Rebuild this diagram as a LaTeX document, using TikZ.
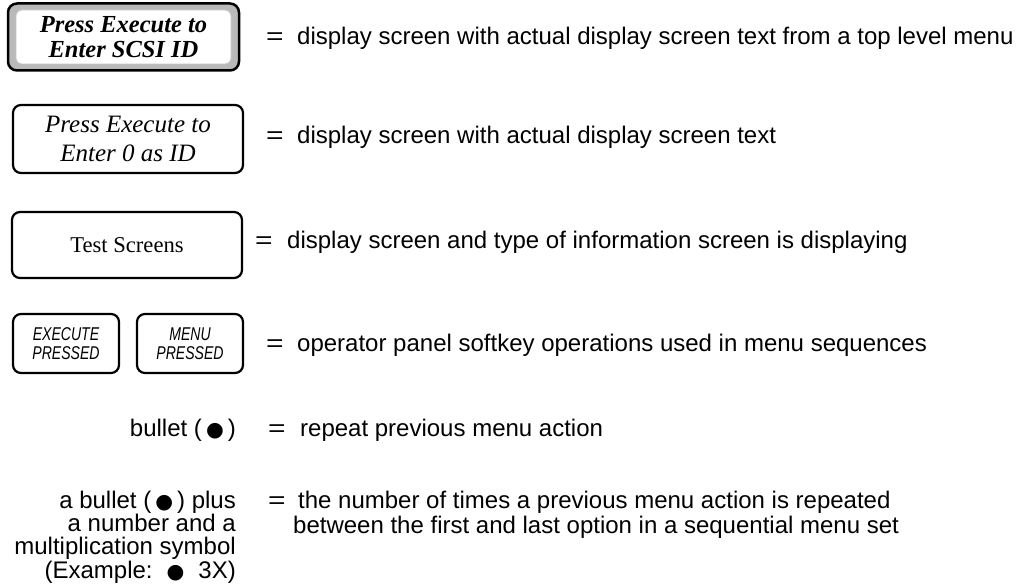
\documentclass[tikz,border=0pt]{standalone}
\usepackage{fontspec}
\setmainfont{Liberation Sans}
\newfontfamily\screenfont{Liberation Serif}
\newfontfamily\keyfont[FakeStretch=0.76]{Liberation Sans}
\newfontfamily\symfont{DejaVu Sans}
\newcommand\blt{\,{\symfont\scalebox{0.85}{●}}\,}
\newcommand\eqsign{\scalebox{1.25}[1]{=}}

\tikzset{
  screenbox/.style={draw=black, line width=2.2pt, rounded corners=8pt, fill=white,
    minimum width=230pt, align=center, inner sep=0pt},
  keybox/.style={draw=black, line width=2.2pt, rounded corners=8pt, fill=white,
    minimum width=106pt, minimum height=59pt, align=center, inner sep=0pt,
    font=\keyfont\itshape\fontsize{18.5}{19.5}\selectfont},
  txt/.style={inner sep=0pt, font=\fontsize{24}{24}\selectfont},
  desc/.style={txt, anchor=base west},
  lefttxt/.style={txt, anchor=base east},
}

\begin{document}
\begin{tikzpicture}[x=1pt, y=-1pt]
\useasboundingbox (0,0) rectangle (1025,586);

% top level menu screen: framed with a grey band
\node[draw=black, line width=2.5pt, rounded corners=9pt, fill=gray!55,
      minimum width=231pt, minimum height=67pt] (s1) at (123.5,37) {};
\node[draw=gray!45, line width=0.8pt, rounded corners=6pt, fill=white,
      minimum width=215pt, minimum height=54pt, align=center, inner sep=0pt,
      font=\screenfont\bfseries\itshape\fontsize{24.5}{24.5}\selectfont]
      (s1in) at (s1.center) {Press Execute to\\Enter SCSI ID};

% plain display screen
\node[screenbox, minimum height=68pt,
      font=\screenfont\itshape\fontsize{25}{28.5}\selectfont]
      (s2) at (128,139) {Press Execute to\\Enter 0 as ID};

% information screen
\node[screenbox, minimum height=66pt,
      font=\screenfont\fontsize{22.6}{24}\selectfont]
      (s3) at (127,245) {Test Screens};

% softkeys
\node[keybox] (k1) at (66,343.5) {EXECUTE\\PRESSED};
\node[keybox] (k2) at (190,343.5) {MENU\\PRESSED};

% left-hand labels
\node[lefttxt] (b5)  at (236,436) {bullet (\blt)};
\node[lefttxt] (b6a) at (236,508) {a bullet (\blt) plus};
\node[lefttxt] (b6b) at (236,531) {a number and a};
\node[lefttxt] (b6c) at (236,554.5) {multiplication symbol};
\node[lefttxt] (b6d) at (236,578) {(Example:\hspace{10pt}\blt\hspace{10pt}3X)};

% equals signs
\node[desc] (e1) at (266,45)  {\eqsign};
\node[desc] (e2) at (266,143) {\eqsign};
\node[desc] (e3) at (255,248) {\eqsign};
\node[desc] (e4) at (266,351) {\eqsign};
\node[desc] (e5) at (268,436) {\eqsign};
\node[desc] (e6) at (268,508) {\eqsign};

% descriptions
\node[desc] (d1) at (297,45)  {display screen with actual display screen text from a top level menu};
\node[desc] (d2) at (297,143) {display screen with actual display screen text};
\node[desc] (d3) at (287,248) {display screen and type of information screen is displaying};
\node[desc] (d4) at (297,351) {operator panel softkey operations used in menu sequences};
\node[desc] (d5) at (300,436) {repeat previous menu action};
\node[desc] (d6a) at (298,508) {the number of times a previous menu action is repeated};
\node[desc] (d6b) at (293,533) {between the first and last option in a sequential menu set};
\end{tikzpicture}
\end{document}
